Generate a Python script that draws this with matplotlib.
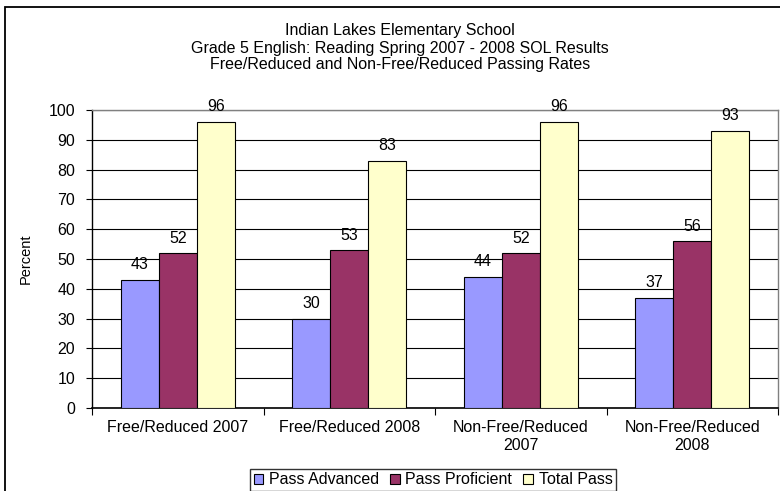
import matplotlib
matplotlib.use("Agg")
import matplotlib.pyplot as plt
from matplotlib.patches import Rectangle
import numpy as np

plt.rcParams['font.family'] = ['Liberation Sans', 'DejaVu Sans']

categories = ["Free/Reduced 2007", "Free/Reduced 2008", "Non-Free/Reduced\n2007", "Non-Free/Reduced\n2008"]
series_names = ["Pass Advanced", "Pass Proficient", "Total Pass"]
pass_advanced = [43, 30, 44, 37]
pass_proficient = [52, 53, 52, 56]
total_pass = [96, 83, 96, 93]
colors = ["#9999FF", "#993366", "#FFFFCC"]
title_lines = ["Indian Lakes Elementary School",
               "Grade 5 English: Reading Spring 2007 - 2008 SOL Results",
               "Free/Reduced and Non-Free/Reduced Passing Rates"]
yticks = list(range(0, 101, 10))

W, H = 780, 491
fig = plt.figure(figsize=(W / 100, H / 100), dpi=100)
fs = 11.5

# outer chart border
fig.add_artist(Rectangle((5 / W, -0.05), 1.1, 1 - 7 / H + 0.05, transform=fig.transFigure,
                         fill=False, edgecolor="black", linewidth=1.3))

ax = fig.add_axes([92 / W, 1 - 408 / H, (778 - 92) / W, (408 - 110) / H])

n = len(categories)
x = np.arange(n)
bw = 1 / 4.5
all_series = [pass_advanced, pass_proficient, total_pass]
for i, (vals, name, c) in enumerate(zip(all_series, series_names, colors)):
    pos = x + (i - 1) * bw
    ax.bar(pos, vals, width=bw, color=c, edgecolor="black", linewidth=0.8,
           label=name, zorder=3)
    for xp, v in zip(pos, vals):
        ax.annotate(str(v), (xp, v), xytext=(0, 10.8), textcoords="offset points",
                    ha="center", va="center", fontsize=fs, zorder=4)

ax.set_xlim(-0.5, n - 0.5)
ax.set_ylim(0, 100)
ax.set_yticks(yticks)
ax.tick_params(axis="y", length=4, width=0.8, labelsize=fs, pad=8, direction="out")
ax.yaxis.grid(True, color="black", linewidth=0.8, zorder=0)
ax.set_axisbelow(True)

ax.set_xticks(x)
ax.set_xticklabels(categories, fontsize=fs, linespacing=1.2)
ax.tick_params(axis="x", length=0, pad=9)
ax.set_xticks(np.arange(-0.5, n, 1), minor=True)
ax.tick_params(axis="x", which="minor", length=5, width=0.8, direction="out")
for t in ax.get_xticklabels():
    t.set_verticalalignment("top")

ax.spines["left"].set_color("black")
ax.spines["bottom"].set_color("black")
ax.spines["left"].set_linewidth(1.0)
ax.spines["bottom"].set_linewidth(1.2)
ax.spines["top"].set_color("#808080")
ax.spines["right"].set_color("#808080")
ax.spines["top"].set_linewidth(1.0)
ax.spines["right"].set_linewidth(1.0)

ax.set_ylabel("Percent", fontsize=fs - 1)
ax.yaxis.set_label_coords((33 - 92) / 686, 0.5)

ys = [30, 48, 65]
for line, y in zip(title_lines, ys):
    fig.text(400 / W, 1 - y / H, line, ha="center", va="center", fontsize=fs)

leg = fig.legend(loc="center", bbox_to_anchor=(433 / W, 1 - 480 / H), ncol=3,
                 fontsize=fs, frameon=True, fancybox=False, shadow=False,
                 handlelength=0.6, handleheight=0.6, handletextpad=0.35,
                 columnspacing=0.7, borderpad=0.25, borderaxespad=0)
leg.get_frame().set_edgecolor("black")
leg.get_frame().set_linewidth(1.0)

fig.savefig("out.png", dpi=100)
